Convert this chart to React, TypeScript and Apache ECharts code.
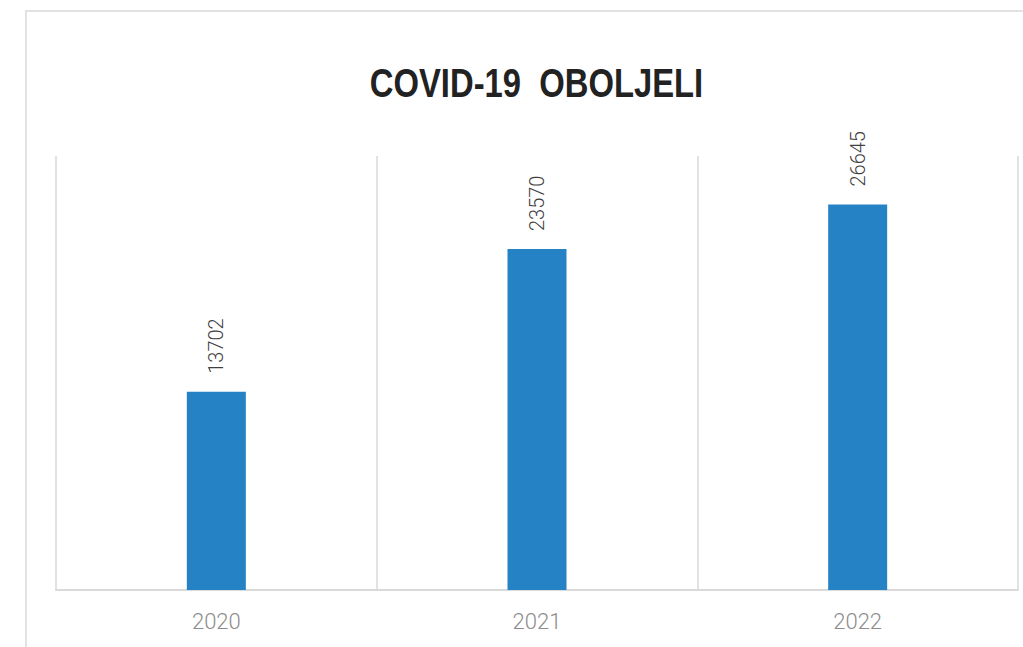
import React, { useEffect, useRef } from "react";
import * as echarts from "echarts";

const categories = ["2020", "2021", "2022"];
const values = [13702, 23570, 26645];
const titleText = "COVID-19  OBOLJELI";
const yMax = 30000;

const LABEL_FONT = "Roboto, 'Liberation Sans', sans-serif";

export default function App() {
  const ref = useRef<HTMLDivElement>(null);
  useEffect(() => {
    if (!ref.current) return;
    const chart = echarts.init(ref.current, undefined, { renderer: "svg" });
    chart.setOption({
      animation: false,
      backgroundColor: "#ffffff",
      graphic: [
        {
          type: "rect",
          shape: { x: 26, y: 11, width: 1200, height: 800 },
          style: { fill: "none", stroke: "#e2e2e2", lineWidth: 2 },
          silent: true,
          z: -1,
        },
        {
          type: "text",
          x: 536.5,
          y: 83,
          scaleX: 0.82,
          style: {
            text: titleText,
            font: "bold 40px 'Liberation Sans', Arial, sans-serif",
            fill: "#222222",
            align: "center",
            verticalAlign: "middle",
          },
          silent: true,
        },
      ],
      grid: { left: 56, right: 5, top: 156, bottom: 57 },
      xAxis: {
        type: "category",
        data: categories,
        axisLine: { lineStyle: { color: "#dadada", width: 2 } },
        axisTick: { show: false },
        splitLine: { show: true, lineStyle: { color: "#e2e2e2", width: 2 } },
        axisLabel: {
          color: "#8c8c8c",
          fontFamily: LABEL_FONT,
          fontWeight: 300,
          fontSize: 22,
          margin: 20,
        },
      },
      yAxis: {
        type: "value",
        min: 0,
        max: yMax,
        show: false,
        splitLine: { show: false },
      },
      series: [
        {
          type: "bar",
          data: values,
          barWidth: 59,
          itemStyle: { color: "#2582c5" },
          label: {
            show: true,
            position: "top",
            rotate: 90,
            align: "left",
            verticalAlign: "middle",
            distance: 18,
            color: "#404040",
            fontFamily: LABEL_FONT,
            fontWeight: 300,
            fontSize: 20,
          },
        },
      ],
    });
    return () => chart.dispose();
  }, []);
  return (
    <div
      ref={ref}
      style={{ position: "fixed", left: 0, top: 0, width: 1023, height: 647 }}
    />
  );
}
